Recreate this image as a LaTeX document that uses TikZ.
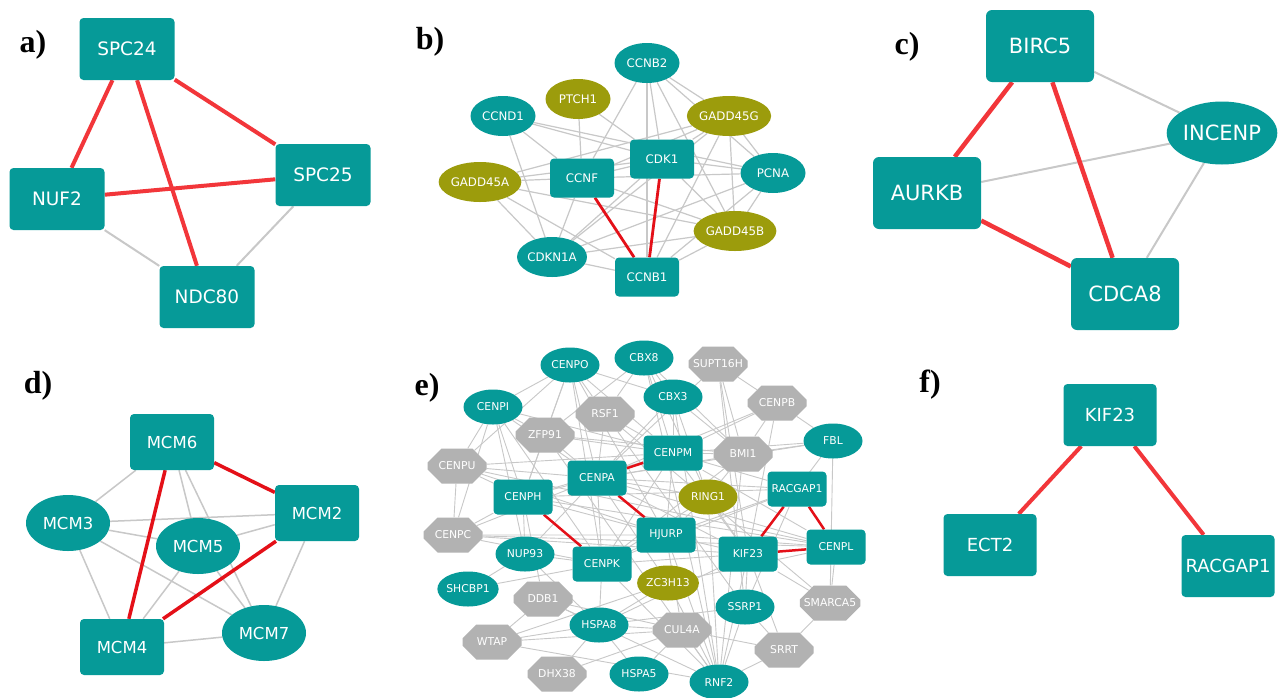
\documentclass[tikz,border=0pt]{standalone}
\usepackage{fontspec}
\setmainfont{Liberation Serif}
\newfontfamily\genefont{DejaVu Sans}
\usetikzlibrary{shapes.geometric,shapes.misc,backgrounds}
\definecolor{nodeTeal}{HTML}{069A98}
\definecolor{nodeOlive}{HTML}{9C9C0C}
\definecolor{nodeGray}{HTML}{B2B2B2}
\definecolor{edgeGray}{HTML}{C8C8C8}
\definecolor{edgeRed}{HTML}{F2363A}
\definecolor{edgeRedDark}{HTML}{E41018}

\begin{document}
\begin{tikzpicture}[x=1pt, y=-1pt,
    gbox/.style={rectangle, rounded corners=4pt, fill=nodeTeal, text=white, inner sep=0pt},
    gell/.style={ellipse, fill=nodeTeal, text=white, inner sep=0pt},
    golive/.style={ellipse, fill=nodeOlive, text=white, inner sep=0pt},
    goct/.style={chamfered rectangle, chamfered rectangle xsep=11pt, chamfered rectangle ysep=10pt,
                 fill=nodeGray, text=white, inner sep=0pt},
    strong/.style={draw=edgeRed, line width=#1},
    strongdark/.style={draw=edgeRedDark, line width=#1},
    weak/.style={draw=edgeGray, line width=#1},
    panel/.style={font=\bfseries\fontsize{32}{34}\selectfont}
]
\useasboundingbox (0,0) rectangle (1280,697);

% panel labels
\node[panel] (la) at (33,45) {a)};
\node[panel] (lb) at (430,42) {b)};
\node[panel] (lc) at (907,47) {c)};
\node[panel] (ld) at (38,386) {d)};
\node[panel] (le) at (427,388) {e)};
\node[panel] (lf) at (930,385) {f)};

% a) NDC80 complex
\begin{scope}[font=\genefont\fontsize{18.5}{20}\selectfont,
              every node/.append style={minimum width=95pt, minimum height=62pt}]
    \node[gbox] (aSPC24) at (127,49) {SPC24};
    \node[gbox] (aNUF2) at (57,199) {NUF2};
    \node[gbox] (aSPC25) at (323,175) {SPC25};
    \node[gbox] (aNDC80) at (207,297) {NDC80};
\end{scope}

% b) cell cycle cluster
\begin{scope}[font=\genefont\fontsize{11.8}{13}\selectfont,
              every node/.append style={minimum width=65pt, minimum height=40pt}]
    \node[gell] (bCCNB2) at (647,63) {CCNB2};
    \node[golive] (bPTCH1) at (578,99) {PTCH1};
    \node[gell] (bCCND1) at (503,116) {CCND1};
    \node[golive] (bGADD45G) at (729,116) {GADD45G};
    \node[gbox, minimum width=64pt, minimum height=39pt] (bCDK1) at (662,159) {CDK1};
    \node[gbox, minimum width=64pt, minimum height=39pt] (bCCNF) at (582,178) {CCNF};
    \node[gell] (bPCNA) at (773,173) {PCNA};
    \node[golive] (bGADD45A) at (480,182) {GADD45A};
    \node[golive] (bGADD45B) at (735,231) {GADD45B};
    \node[gell] (bCDKN1A) at (552,257) {CDKN1A};
    \node[gbox, minimum width=64pt, minimum height=39pt] (bCCNB1) at (647,277) {CCNB1};
\end{scope}

% c) chromosomal passenger complex
\begin{scope}[font=\genefont\fontsize{21}{23}\selectfont,
              every node/.append style={minimum width=108pt, minimum height=72pt}]
    \node[gbox, rounded corners=6pt] (cBIRC5) at (1040,46) {BIRC5};
    \node[gell, minimum width=110pt, minimum height=63pt] (cINCENP) at (1222,133) {INCENP};
    \node[gbox, rounded corners=6pt] (cAURKB) at (927,193) {AURKB};
    \node[gbox, rounded corners=6pt] (cCDCA8) at (1125,294) {CDCA8};
\end{scope}

% d) MCM complex
\begin{scope}[font=\genefont\fontsize{16.5}{18}\selectfont,
              every node/.append style={minimum width=84pt, minimum height=56pt}]
    \node[gbox] (dMCM6) at (172,442) {MCM6};
    \node[gbox] (dMCM2) at (317,513) {MCM2};
    \node[gell] (dMCM3) at (68,523) {MCM3};
    \node[gell] (dMCM5) at (198,546) {MCM5};
    \node[gell] (dMCM7) at (264,633) {MCM7};
    \node[gbox] (dMCM4) at (122,647) {MCM4};
\end{scope}

% e) centromere network
\begin{scope}[font=\genefont\fontsize{10.8}{12}\selectfont,
              every node/.append style={minimum width=59pt, minimum height=35pt}]
    \node[gell] (eCENPO) at (570,365) {CENPO};
    \node[gell] (eCBX8) at (644,358) {CBX8};
    \node[goct] (eSUPT16H) at (718,364) {SUPT16H};
    \node[gell] (eCENPI) at (493,407) {CENPI};
    \node[goct] (eRSF1) at (605,414) {RSF1};
    \node[gell] (eCBX3) at (673,397) {CBX3};
    \node[goct] (eCENPB) at (777,403) {CENPB};
    \node[goct] (eZFP91) at (545,435) {ZFP91};
    \node[gell] (eFBL) at (833,441) {FBL};
    \node[gbox] (eCENPM) at (673,453) {CENPM};
    \node[goct] (eBMI1) at (743,454) {BMI1};
    \node[goct] (eCENPU) at (457,466) {CENPU};
    \node[gbox] (eCENPA) at (597,478) {CENPA};
    \node[golive] (eRING1) at (708,497) {RING1};
    \node[gbox] (eRACGAP1) at (797,489) {RACGAP1};
    \node[gbox] (eCENPH) at (523,497) {CENPH};
    \node[gbox] (eHJURP) at (666,535) {HJURP};
    \node[goct] (eCENPC) at (453,535) {CENPC};
    \node[gbox] (eCENPL) at (836,547) {CENPL};
    \node[gbox] (eKIF23) at (748,554) {KIF23};
    \node[gell] (eNUP93) at (525,554) {NUP93};
    \node[gbox] (eCENPK) at (602,564) {CENPK};
    \node[golive] (eZC3H13) at (668,583) {ZC3H13};
    \node[gell] (eSHCBP1) at (468,589) {SHCBP1};
    \node[goct] (eDDB1) at (543,599) {DDB1};
    \node[goct] (eSMARCA5) at (830,603) {SMARCA5};
    \node[gell] (eSSRP1) at (745,607) {SSRP1};
    \node[gell] (eHSPA8) at (599,625) {HSPA8};
    \node[goct] (eCUL4A) at (682,630) {CUL4A};
    \node[goct] (eWTAP) at (492,642) {WTAP};
    \node[goct] (eSRRT) at (784,650) {SRRT};
    \node[goct] (eDHX38) at (557,674) {DHX38};
    \node[gell] (eHSPA5) at (639,674) {HSPA5};
    \node[gell] (eRNF2) at (719,682) {RNF2};
\end{scope}

% f) cytokinesis
\begin{scope}[font=\genefont\fontsize{18}{20}\selectfont,
              every node/.append style={minimum width=93pt, minimum height=62pt}]
    \node[gbox] (fKIF23) at (1110,415) {KIF23};
    \node[gbox] (fECT2) at (990,545) {ECT2};
    \node[gbox] (fRACGAP1) at (1228,566) {RACGAP1};
\end{scope}

\begin{pgfonlayer}{background}
    \fill[white] (0,0) rectangle (1280,697);
    % a)
    \foreach \u/\v in {aNUF2/aNDC80, aSPC25/aNDC80}
        \draw[weak=2pt] (\u) -- (\v);
    \foreach \u/\v in {aSPC24/aNUF2, aSPC24/aNDC80, aSPC24/aSPC25, aNUF2/aSPC25}
        \draw[strong=4pt] (\u) -- (\v);
    % b)
    \foreach \u/\dsts in {CCNB2/{CCNF,CDK1,GADD45G,GADD45B,CCNB1,PCNA},
                          PTCH1/{CDK1,CCNF},
                          CCND1/{CDK1,PCNA,CDKN1A,CCNF},
                          GADD45G/{CDK1,CCNF,GADD45A,PCNA,GADD45B,CCNB1,CDKN1A},
                          CDK1/{PCNA,GADD45A,GADD45B,CCNF,CDKN1A},
                          CCNF/{PCNA,GADD45A,CDKN1A,GADD45B},
                          GADD45A/{CDKN1A,CCNB1,GADD45B},
                          PCNA/{CDKN1A,CCNB1,GADD45B},
                          GADD45B/{CCNB1,CDKN1A},
                          CDKN1A/{CCNB1}}
        \foreach \v in \dsts
            \draw[weak=1.2pt] (b\u) -- (b\v);
    \foreach \u/\v in {bCCNF/bCCNB1, bCDK1/bCCNB1}
        \draw[strongdark=2.8pt] (\u) -- (\v);
    % c)
    \foreach \u/\v in {cBIRC5/cINCENP, cAURKB/cINCENP, cINCENP/cCDCA8}
        \draw[weak=2pt] (\u) -- (\v);
    \foreach \u/\v in {cBIRC5/cAURKB, cBIRC5/cCDCA8, cAURKB/cCDCA8}
        \draw[strong=4.5pt] (\u) -- (\v);
    % d)
    \foreach \u/\dsts in {MCM6/{MCM3,MCM5,MCM7},
                          MCM3/{MCM2,MCM5,MCM7,MCM4},
                          MCM5/{MCM2,MCM4,MCM7},
                          MCM2/{MCM7},
                          MCM4/{MCM7}}
        \foreach \v in \dsts
            \draw[weak=1.5pt] (d\u) -- (d\v);
    \foreach \u/\v in {dMCM6/dMCM4, dMCM6/dMCM2, dMCM2/dMCM4}
        \draw[strongdark=3.5pt] (\u) -- (\v);
    % e)
    \foreach \u/\dsts in {CENPO/{CENPI,ZFP91,RSF1,CENPA,CENPH,CENPU,CENPM,CBX3,HJURP,CENPK},
                          CENPI/{CENPU,CENPH,CENPA,ZFP91,CENPC,CENPM,NUP93,CENPK},
                          CENPU/{CENPA,CENPH,CENPC,HJURP,CENPM,CENPL},
                          ZFP91/{CBX8,CENPA,CENPM,RNF2,BMI1,CENPH},
                          RSF1/{CENPA,SSRP1,SMARCA5,CBX8,CENPM},
                          CBX8/{CBX3,BMI1,RING1,RNF2,CENPM},
                          SUPT16H/{CENPB,SSRP1,BMI1,CENPA,KIF23},
                          CENPB/{FBL,CENPA,CENPM,KIF23,BMI1},
                          CBX3/{CENPA,BMI1,RING1,CENPM,RNF2},
                          FBL/{BMI1,CENPM,SMARCA5,KIF23,CENPA},
                          BMI1/{RING1,RNF2,CENPM,CENPA,CENPK},
                          RING1/{RNF2,CENPA,KIF23,CENPK,HJURP},
                          RACGAP1/{CENPA,HJURP,SSRP1,CENPK,CENPH,CENPM},
                          CENPL/{CENPA,CENPH,HJURP,CENPC,SMARCA5,ZC3H13,CENPM},
                          KIF23/{CENPA,CENPC,SSRP1,RNF2,SMARCA5,CENPM,HSPA8,SRRT,CENPK,HJURP},
                          HJURP/{CENPC,CENPM,CENPK,CENPH,CUL4A,RNF2},
                          CENPK/{NUP93,HSPA8,CENPA,CENPM,CENPC},
                          NUP93/{SHCBP1,HSPA8,CENPH,CENPA},
                          SHCBP1/{CENPK},
                          DDB1/{WTAP,HSPA8,CUL4A,CENPH,RNF2},
                          HSPA8/{WTAP,DHX38,HSPA5,CUL4A,SSRP1},
                          WTAP/{CUL4A,RNF2,ZC3H13},
                          DHX38/{CUL4A},
                          HSPA5/{CUL4A},
                          CUL4A/{RNF2,SRRT},
                          SSRP1/{RNF2,SRRT},
                          SRRT/{RNF2,SMARCA5},
                          RNF2/{ZC3H13,CENPK},
                          ZC3H13/{CENPA,HSPA8},
                          CENPA/{CENPH,CENPC},
                          CENPH/{CENPC},
                          CENPM/{CENPH}}
        \foreach \v in \dsts
            \draw[weak=0.9pt] (e\u) -- (e\v);
    \foreach \u/\v in {eCENPA/eCENPM, eCENPA/eHJURP, eCENPH/eCENPK,
                       eRACGAP1/eKIF23, eRACGAP1/eCENPL, eKIF23/eCENPL}
        \draw[strongdark=2.5pt] (\u) -- (\v);
    % f)
    \foreach \u/\v in {fKIF23/fECT2, fKIF23/fRACGAP1}
        \draw[strong=4pt] (\u) -- (\v);
\end{pgfonlayer}
\end{tikzpicture}
\end{document}
